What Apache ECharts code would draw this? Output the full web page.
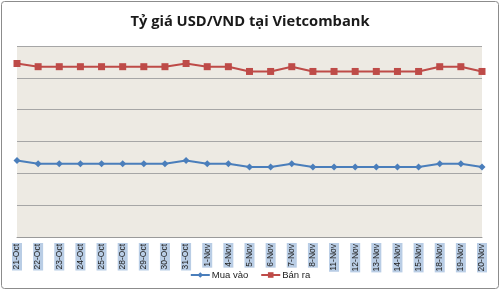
<!DOCTYPE html>
<html><head><meta charset="utf-8">
<script src="https://cdn.jsdelivr.net/npm/echarts@6/dist/echarts.min.js"></script>
<style>html,body{margin:0;padding:0;background:#fff}#c{width:500px;height:290px}</style>
</head><body><div id="c"></div>
<script>
const categories = ["21-Oct","22-Oct","23-Oct","24-Oct","25-Oct","28-Oct","29-Oct","30-Oct","31-Oct","1-Nov","4-Nov","5-Nov","6-Nov","7-Nov","8-Nov","11-Nov","12-Nov","13-Nov","14-Nov","15-Nov","18-Nov","19-Nov","20-Nov"];
const muaVao = [21048,21046,21046,21046,21046,21046,21046,21046,21048,21046,21046,21044,21044,21046,21044,21044,21044,21044,21044,21044,21046,21046,21044];
const banRa  = [21109,21107,21107,21107,21107,21107,21107,21107,21109,21107,21107,21104,21104,21107,21104,21104,21104,21104,21104,21104,21107,21107,21104];
const seriesNames = ["Mua vào","Bán ra"];
const titleText = "Tỷ giá USD/VND tại Vietcombank";

const chart = echarts.init(document.getElementById('c'), null, {renderer:'canvas'});
chart.setOption({
  animation:false,
  backgroundColor:'#ffffff',
  title:{text:titleText,left:'center',top:9,textStyle:{fontFamily:'Open Sans',fontWeight:'bold',fontSize:14.7,color:'#1a1a1a'}},
  graphic:[{type:'rect',shape:{x:1.5,y:1.5,width:497,height:287,r:3},style:{fill:'none',stroke:'#8c8c8c',lineWidth:1}}],
  legend:{bottom:5,left:'center',itemWidth:19,itemHeight:7,itemGap:12,textStyle:{fontFamily:'Liberation Sans',fontSize:9.5,color:'#222',padding:[0,0,0,-3]},data:seriesNames},
  grid:{left:17,right:18,top:46,bottom:53,show:true,backgroundColor:'#EDEAE3',borderWidth:0},
  xAxis:{type:'category',data:categories,boundaryGap:false,
    axisLine:{lineStyle:{color:'#9a9a9a'}},axisTick:{show:false},
    axisLabel:{rotate:90,interval:0,fontSize:8.5,fontFamily:'Liberation Sans',color:'#222',margin:6,backgroundColor:'#B9CDE5',padding:[1,1,0,1]}},
  yAxis:{type:'value',min:21000,max:21120,interval:20,
    axisLabel:{show:false},axisLine:{show:false},axisTick:{show:false},
    splitLine:{lineStyle:{color:'#A6A6A6',width:1}}},
  series:[
    {name:seriesNames[0],type:'line',data:muaVao,symbol:'diamond',symbolSize:7,
     lineStyle:{color:'#4A7EBB',width:2},itemStyle:{color:'#4A7EBB'}},
    {name:seriesNames[1],type:'line',data:banRa,symbol:'rect',symbolSize:7,
     lineStyle:{color:'#BE4B48',width:2},itemStyle:{color:'#BE4B48'}}
  ]
});
</script></body></html>
